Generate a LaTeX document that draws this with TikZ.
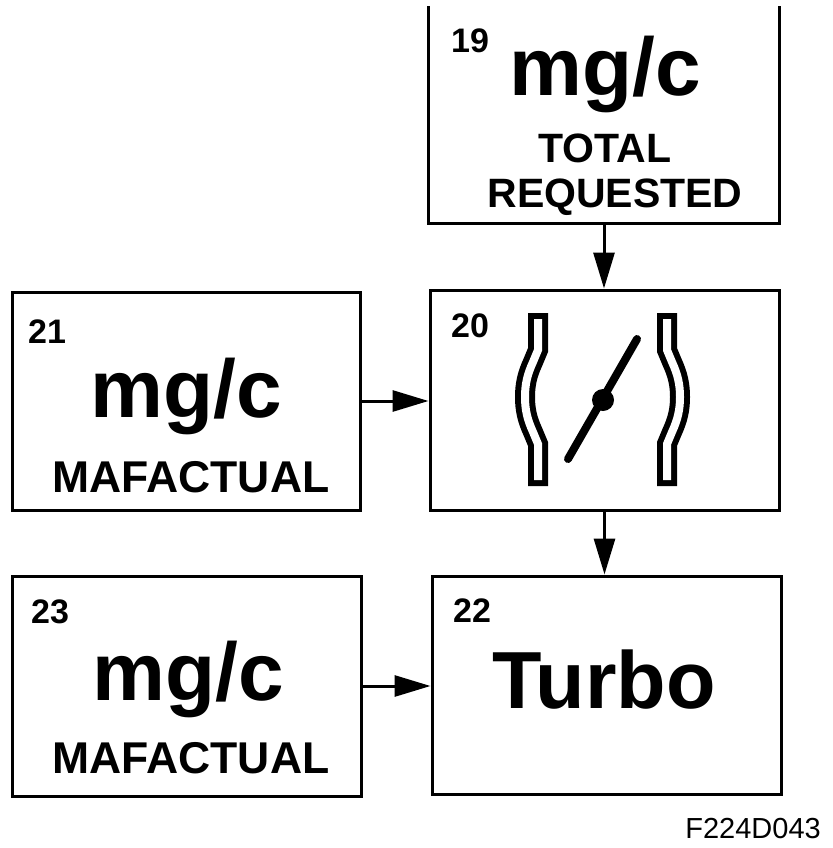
\documentclass[tikz,border=0pt]{standalone}
\usepackage{fontspec}
\setmainfont{Liberation Sans}
\usetikzlibrary{arrows.meta}
\begin{document}
\begin{tikzpicture}[x=1pt,y=-1pt,
  box/.style={draw=black,line width=3pt,inner sep=0pt,minimum width=#1},
  num/.style={anchor=base west,inner sep=0pt,font=\fontsize{34}{34}\selectfont\bfseries},
  big/.style={anchor=base,inner sep=0pt,font=\fontsize{82}{82}\selectfont\bfseries},
  lab/.style={anchor=base,inner sep=0pt,font=\fontsize{41}{41}\selectfont\bfseries},
  maf/.style={anchor=base,inner sep=0pt,font=\fontsize{44.5}{44.5}\selectfont\bfseries},
  conn/.style={line width=3pt,-{Triangle[length=36pt,width=21pt]}},
  wallout/.style={line width=20pt,black},
  wallin/.style={line width=8pt,white,shorten <=6pt,shorten >=6pt}]
\useasboundingbox[fill=white] (0,0) rectangle (832,848);

% boxes
\node[box=348pt,draw=none,minimum height=214pt] (b19) at (604,115) {};
\draw[line width=3pt] (b19.north west) |- (b19.south east) -- (b19.north east);
\node[box=349pt,minimum height=220pt] (b20) at (604.5,400) {};
\node[box=348pt,minimum height=218pt] (b21) at (186,401) {};
\node[box=349pt,minimum height=220pt] (b23) at (186.5,686) {};
\node[box=349pt,minimum height=218pt] (b22) at (606.5,685) {};

% texts
\node[num] (t19n) at (451,53) {19};
\node[big] (t19m) at (605,96) {mg/c};
\node[lab] (t19a) at (605,162) {TOTAL};
\node[lab] (t19b) at (615,207) {REQUESTED};
\node[num] (t20n) at (451,337) {20};
\node[num] (t21n) at (28,343) {21};
\node[big] (t21m) at (186,417) {mg/c};
\node[maf] (t21a) at (191,492) {MAFACTUAL};
\node[num] (t23n) at (31,623) {23};
\node[big] (t23m) at (188,700) {mg/c};
\node[maf] (t23a) at (191,773) {MAFACTUAL};
\node[num] (t22n) at (453,622) {22};
\node[anchor=base,inner sep=0pt,font=\fontsize{81}{81}\selectfont\bfseries] (t22m) at (604,708) {Turbo};
\node[anchor=base east,inner sep=0pt,font=\fontsize{29}{29}\selectfont] (fig) at (821,838) {F224D043};

% connectors
\draw[conn] (b19.south) -- (b19.south |- b20.north);
\draw[conn] (b20.south) -- (b20.south |- b22.north);
\draw[conn] (b21.east) -- (b21.east -| b20.west);
\draw[conn] (b23.east) -- (b23.east -| b22.west);

% throttle icon
\foreach \s in {wallout,wallin}{
  \draw[\s] (538,313) -- (538,350) -- (533,362) .. controls (527,375) and (525,385) .. (525,397)
        .. controls (525,409) and (527,419) .. (533,432) -- (538,444) -- (538,486);
  \draw[\s] (667,313) -- (667,350) -- (672,362) .. controls (678,375) and (680,385) .. (680,397)
        .. controls (680,409) and (678,419) .. (672,432) -- (667,444) -- (667,486);
}
\draw[line width=8pt,line cap=round] (568,459) -- (637,339);
\fill (603,400) circle (11pt);
\end{tikzpicture}
\end{document}
